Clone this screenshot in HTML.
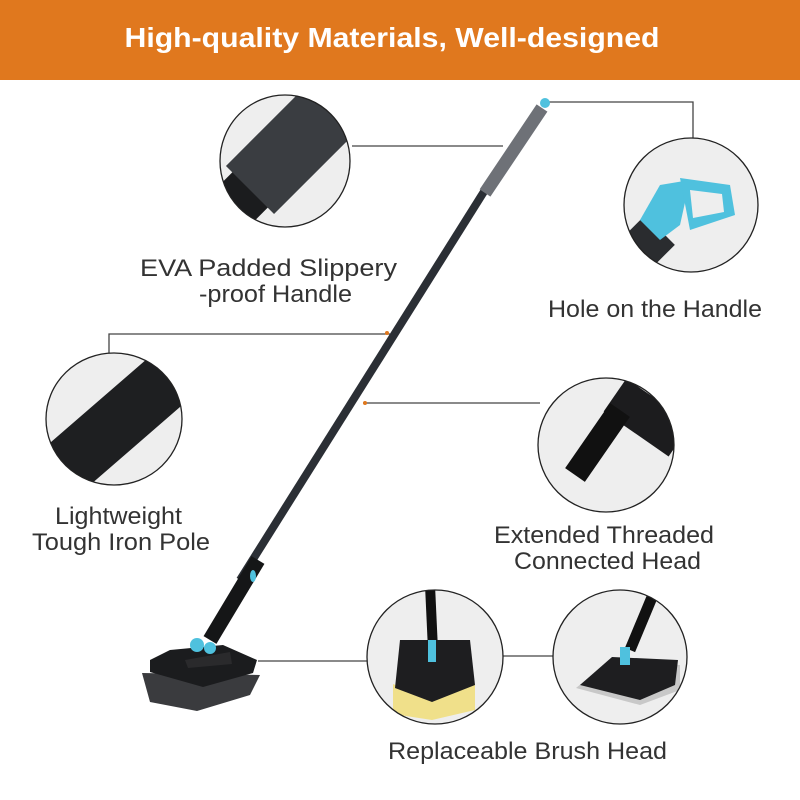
<!DOCTYPE html>
<html><head><meta charset="utf-8"><style>
html,body{margin:0;padding:0;background:#fff;}
svg{display:block;}
text{font-family:"Liberation Sans",sans-serif;}
</style></head><body>
<svg width="800" height="800" viewBox="0 0 800 800" xmlns="http://www.w3.org/2000/svg">
<rect x="0" y="0" width="800" height="80" fill="#E0781E"/>
<text x="392" y="47" text-anchor="middle" fill="#fff" font-size="28" font-weight="bold" textLength="535" lengthAdjust="spacingAndGlyphs">High-quality Materials, Well-designed</text>

<g stroke="#444" stroke-width="1.3" fill="none">
<polyline points="545,102 693,102 693,138"/>
<line x1="352" y1="146" x2="503" y2="146"/>
<polyline points="390,334 109,334 109,353"/>
<line x1="363" y1="403" x2="540" y2="403"/>
<line x1="258" y1="661" x2="367" y2="661"/>
<line x1="503" y1="656" x2="553" y2="656"/>
</g>

<defs>
<clipPath id="c1"><ellipse cx="285" cy="161" rx="65" ry="66"/></clipPath>
<clipPath id="c2"><ellipse cx="691" cy="205" rx="67" ry="67"/></clipPath>
<clipPath id="c3"><ellipse cx="114" cy="419" rx="68" ry="66"/></clipPath>
<clipPath id="c4"><ellipse cx="606" cy="445" rx="68" ry="67"/></clipPath>
<clipPath id="c5"><ellipse cx="435" cy="657" rx="68" ry="67"/></clipPath>
<clipPath id="c6"><ellipse cx="620" cy="657" rx="67" ry="67"/></clipPath>
</defs>

<ellipse cx="285" cy="161" rx="65" ry="66" fill="#eee"/>
<g clip-path="url(#c1)">
<line x1="200" y1="240" x2="290" y2="150" stroke="#1b1c1e" stroke-width="50"/>
<line x1="250" y1="190" x2="370" y2="70" stroke="#3a3d41" stroke-width="68"/>
</g>
<ellipse cx="285" cy="161" rx="65" ry="66" fill="none" stroke="#222" stroke-width="1.3"/>

<ellipse cx="691" cy="205" rx="67" ry="67" fill="#eee"/>
<g clip-path="url(#c2)">
<line x1="620" y1="270" x2="660" y2="230" stroke="#2a2c2f" stroke-width="42"/>
<path d="M640 220 L660 185 L690 180 L680 225 L660 240 Z" fill="#4fc1de"/>
<path d="M680 178 L730 185 L735 215 L690 230 Z" fill="#4fc1de"/>
<path d="M690 190 L722 194 L724 212 L693 218 Z" fill="#eee"/>
</g>
<ellipse cx="691" cy="205" rx="67" ry="67" fill="none" stroke="#222" stroke-width="1.3"/>

<ellipse cx="114" cy="419" rx="68" ry="66" fill="#eee"/>
<g clip-path="url(#c3)">
<line x1="40" y1="490" x2="190" y2="360" stroke="#1e1f21" stroke-width="58"/>
</g>
<ellipse cx="114" cy="419" rx="68" ry="66" fill="none" stroke="#222" stroke-width="1.3"/>

<ellipse cx="606" cy="445" rx="68" ry="67" fill="#eee"/>
<g clip-path="url(#c4)">
<line x1="615" y1="395" x2="680" y2="440" stroke="#1c1c1e" stroke-width="40"/>
<line x1="575" y1="475" x2="620" y2="410" stroke="#111" stroke-width="24"/>
</g>
<ellipse cx="606" cy="445" rx="68" ry="67" fill="none" stroke="#222" stroke-width="1.3"/>

<ellipse cx="435" cy="657" rx="68" ry="67" fill="#eee"/>
<g clip-path="url(#c5)">
<line x1="430" y1="585" x2="433" y2="650" stroke="#111" stroke-width="10"/>
<path d="M393 684 L393 714 L432 720 L475 710 L475 684 L432 700 Z" fill="#f0e08a"/>
<path d="M400 640 L470 640 L475 685 L432 702 L395 688 Z" fill="#1e1e20"/>
<rect x="428" y="640" width="8" height="22" fill="#4fc1de"/>
</g>
<ellipse cx="435" cy="657" rx="68" ry="67" fill="none" stroke="#222" stroke-width="1.3"/>

<ellipse cx="620" cy="657" rx="67" ry="67" fill="#eee"/>
<g clip-path="url(#c6)">
<line x1="655" y1="590" x2="630" y2="650" stroke="#111" stroke-width="11"/>
<path d="M576 688 L610 660 L680 665 L680 690 L640 705 Z" fill="#c8c8c8"/>
<path d="M580 685 L612 657 L678 660 L675 685 L640 700 Z" fill="#1e1e20"/>
<rect x="620" y="647" width="10" height="18" fill="#4fc1de"/>
</g>
<ellipse cx="620" cy="657" rx="67" ry="67" fill="none" stroke="#222" stroke-width="1.3"/>

<line x1="485" y1="190" x2="240" y2="580" stroke="#2b2f35" stroke-width="8"/>
<line x1="542" y1="108" x2="485" y2="193" stroke="#6e7177" stroke-width="13"/>
<circle cx="545" cy="103" r="5" fill="#4fc1de"/>
<line x1="258" y1="560" x2="210" y2="640" stroke="#151617" stroke-width="15"/>
<ellipse cx="253" cy="576" rx="3" ry="6" fill="#4fc1de"/>
<path d="M142 673 L260 675 L250 695 L197 711 L150 702 Z" fill="#3a3b3e"/>
<path d="M150 660 L170 650 L223 645 L257 660 L253 673 L203 687 L150 672 Z" fill="#1b1c1e"/>
<path d="M185 660 L230 652 L232 664 L188 668 Z" fill="#2a2a2c"/>
<circle cx="197" cy="645" r="7" fill="#4fc1de"/>
<circle cx="210" cy="648" r="6" fill="#4fc1de"/>
<circle cx="387" cy="333" r="2" fill="#E0781E"/>
<circle cx="365" cy="403" r="2" fill="#E0781E"/>

<g fill="#333" font-size="24">
<text x="140" y="276" textLength="257" lengthAdjust="spacingAndGlyphs">EVA Padded Slippery</text>
<text x="199" y="302" textLength="153" lengthAdjust="spacingAndGlyphs">-proof Handle</text>
<text x="548" y="317" textLength="214" lengthAdjust="spacingAndGlyphs">Hole on the Handle</text>
<text x="55" y="524" textLength="127" lengthAdjust="spacingAndGlyphs">Lightweight</text>
<text x="32" y="550" textLength="178" lengthAdjust="spacingAndGlyphs">Tough Iron Pole</text>
<text x="494" y="543" textLength="220" lengthAdjust="spacingAndGlyphs">Extended Threaded</text>
<text x="514" y="569" textLength="187" lengthAdjust="spacingAndGlyphs">Connected Head</text>
<text x="388" y="759" textLength="279" lengthAdjust="spacingAndGlyphs">Replaceable Brush Head</text>
</g>
</svg>
</body></html>
